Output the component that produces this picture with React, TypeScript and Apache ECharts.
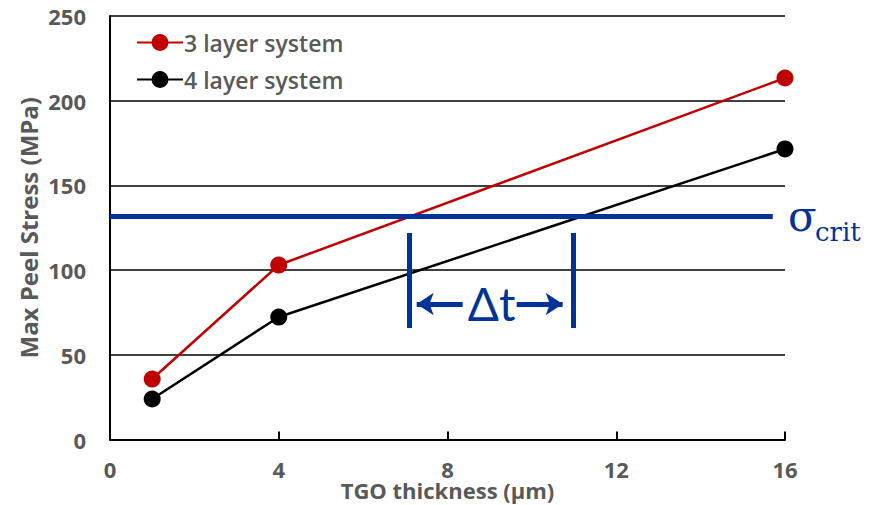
import React, { useEffect, useRef } from "react";
import * as echarts from "echarts";

const xTicks = [0, 4, 8, 12, 16];
const thickness = [1, 4, 16];
const threeLayer = [35.7, 103, 213.4];
const fourLayer = [23.9, 72.3, 171.5];
const sigmaCrit = 132;
const sigmaLineEnd = 15.71;
const deltaStart = 7.1;
const deltaEnd = 10.99;
const barLow = 65.8;
const barHigh = 121.9;
const arrowY = 80;
const leftArrow = [7.27, 8.36];
const rightArrow = [9.64, 10.73];

const BLUE = "#003399";
const GRAY = "#595959";
const FONT = "'Open Sans', Lato, sans-serif";
const SERIF = "'DejaVu Serif', 'Liberation Serif', serif";

export default function App() {
  const ref = useRef<HTMLDivElement>(null);
  useEffect(() => {
    const chart = echarts.init(ref.current!, null, { renderer: "svg" });
    const blueLine = { color: BLUE, width: 5, type: "solid" };
    chart.setOption({
      animation: false,
      backgroundColor: "#fff",
      grid: { left: 110, right: 90, top: 16, bottom: 65.5, containLabel: false, outerBoundsMode: "none" },
      legend: {
        orient: "vertical",
        left: 131,
        top: 26,
        itemWidth: 46,
        itemHeight: 21,
        itemGap: 14,
        data: ["3 layer system", "4 layer system"],
        textStyle: { color: GRAY, fontSize: 23, fontFamily: FONT, fontWeight: 600, padding: [0, 0, 0, -4] },
      },
      xAxis: {
        type: "value",
        min: 0,
        max: 16,
        interval: 4,
        name: "TGO thickness (µm)",
        nameLocation: "middle",
        nameGap: 41,
        nameMoveOverlap: false,
        nameTextStyle: { color: GRAY, fontSize: 22, fontWeight: "bold", fontFamily: FONT, lineHeight: 18 },
        axisLine: { show: true, lineStyle: { color: "#000", width: 2 } },
        axisTick: { show: true, inside: true, length: 8, lineStyle: { color: "#000", width: 2 } },
        axisLabel: { color: GRAY, fontSize: 22, fontFamily: FONT, fontWeight: "bold", margin: 20, lineHeight: 18, formatter: (v: number) => (xTicks.includes(v) ? String(v) : "") },
        splitLine: { show: false },
      },
      yAxis: {
        type: "value",
        min: 0,
        max: 250,
        interval: 50,
        name: "Max Peel Stress (MPa)",
        nameLocation: "middle",
        nameGap: 70,
        nameMoveOverlap: false,
        nameTextStyle: { color: GRAY, fontSize: 24, fontWeight: "bold", fontFamily: FONT },
        axisLine: { show: true, lineStyle: { color: "#000", width: 2 } },
        axisTick: { show: false },
        axisLabel: { color: GRAY, fontSize: 22, fontFamily: FONT, fontWeight: "bold", margin: 24 },
        splitLine: { show: true, lineStyle: { color: "#000", width: 1.5 } },
      },
      series: [
        {
          name: "annotations",
          type: "line",
          data: [],
          silent: true,
          markLine: {
            silent: true,
            symbol: ["none", "none"],
            label: { show: false },
            lineStyle: blueLine,
            data: [
              [{ coord: [0, sigmaCrit] }, { coord: [sigmaLineEnd, sigmaCrit] }],
              [{ coord: [deltaStart, barLow] }, { coord: [deltaStart, barHigh] }],
              [{ coord: [deltaEnd, barLow] }, { coord: [deltaEnd, barHigh] }],
              [
                { coord: [leftArrow[0], arrowY], symbol: "arrow", symbolSize: [17, 17] },
                { coord: [leftArrow[1], arrowY], symbol: "none" },
              ],
              [
                { coord: [rightArrow[0], arrowY], symbol: "none" },
                { coord: [rightArrow[1], arrowY], symbol: "arrow", symbolSize: [17, 17] },
              ],
            ],
          },
          markPoint: {
            silent: true,
            symbol: "circle",
            symbolSize: 0,
            data: [
              {
                coord: [(deltaStart + deltaEnd) / 2, arrowY],
                label: { show: true, position: "inside", formatter: "Δt", color: BLUE, fontSize: 46, fontFamily: "Lato, sans-serif" },
              },
            ],
          },
        },
        {
          name: "3 layer system",
          type: "line",
          data: thickness.map((x, i) => [x, threeLayer[i]]),
          symbol: "circle",
          symbolSize: 17,
          color: "#C00000",
          lineStyle: { color: "#C00000", width: 2.5 },
          itemStyle: { color: "#C00000" },
          z: 3,
        },
        {
          name: "4 layer system",
          type: "line",
          data: thickness.map((x, i) => [x, fourLayer[i]]),
          symbol: "circle",
          symbolSize: 17,
          color: "#000000",
          lineStyle: { color: "#000000", width: 2.5 },
          itemStyle: { color: "#000000" },
          z: 3,
        },
      ],
      graphic: [
        {
          type: "text",
          x: 788,
          y: 216,
          style: { text: "σ", fill: BLUE, font: `42px ${SERIF}`, verticalAlign: "middle", align: "left" },
        },
        {
          type: "text",
          x: 815,
          y: 232,
          style: { text: "crit", fill: BLUE, font: `26px ${SERIF}`, verticalAlign: "middle", align: "left" },
        },
      ],
    });
    return () => chart.dispose();
  }, []);
  return <div ref={ref} style={{ width: 875, height: 505, position: "absolute", left: 0, top: 0 }} />;
}
